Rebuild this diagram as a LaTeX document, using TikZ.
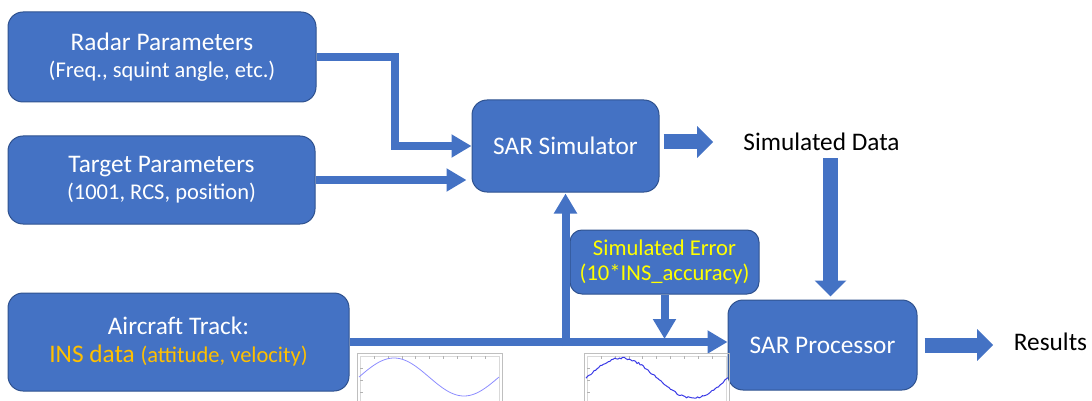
\documentclass[tikz,border=0pt]{standalone}
\usepackage{fontspec}
\setmainfont{Carlito}
\usetikzlibrary{arrows.meta}
\definecolor{boxblue}{HTML}{4472C4}
\definecolor{boxedge}{HTML}{2F528F}
\definecolor{insorange}{HTML}{FFC000}
\definecolor{erryellow}{HTML}{FFFF00}
\definecolor{plotline}{HTML}{8C8CFF}
\definecolor{plotnoisy}{HTML}{3A3AE6}
\def\big{\fontsize{25.3}{28}\selectfont}
\def\sub{\fontsize{22.5}{26}\selectfont}
\begin{document}
\begin{tikzpicture}[x=1pt,y=-1pt,
    block/.style={draw=boxedge,line width=1pt,fill=boxblue,rounded corners=15pt,
                  text=white,align=center,inner sep=0pt,font=\big},
    outtext/.style={font=\big,inner sep=2pt,text=black},
    link/.style={draw=boxblue,line width=8pt,-{Triangle[width=22pt,length=20pt]}},
    fat/.style={draw=boxblue,line width=15pt,-{Triangle[width=31pt,length=16pt]}},
    frame/.style={draw=black!25,line width=1pt}]
  \useasboundingbox (0,0) rectangle (1092,401);
  % cajas
  \node[block,minimum width=308,minimum height=90] (radar) at (162,57)
    {Radar Parameters\\[-1pt]{\sub (Freq., squint angle, etc.)}};
  \node[block,minimum width=307,minimum height=88] (target) at (161.5,180)
    {Target Parameters\\[-1pt]{\sub (1001, RCS, position)}};
  \node[block,minimum width=341,minimum height=98] (track) at (178.5,342)
    {Aircraft Track:\\{\color{insorange}INS data {\sub (attitude, velocity)}}};
  \node[block,minimum width=187,minimum height=92] (sim) at (565.5,146) {SAR Simulator};
  \node[block,minimum width=189,minimum height=90] (proc) at (822.5,345) {SAR Processor};
  \node[block,minimum width=189,minimum height=64,rounded corners=12pt,text=erryellow,
        font=\fontsize{22.6}{25}\selectfont] (error) at (664.5,262)
    {Simulated Error\\(10*INS\_accuracy)};
  \node[outtext] (simdata) at (821.5,142) {Simulated Data};
  \node[outtext] (results) at (1050.5,342) {Results};
  % flechas
  \draw[link] (radar.east) -- ++(78,0) |- (sim.west);
  \draw[link,shorten >=5pt] (target.east) -- (sim.west |- target.east);
  \draw[link] (track.east) -- (proc.west |- track.east);
  \draw[link] ([yshift=-4pt]sim.south |- track.east) -- ([yshift=-1pt]sim.south);
  \draw[link] (error.south) -- ([yshift=3pt]error.south |- track.east);
  \draw[fat] ([xshift=4pt]sim.east |- simdata.west) -- ([xshift=-28pt]simdata.west);
  \draw[fat] ([xshift=9pt,yshift=-5pt]simdata.south) -- ([xshift=8pt,yshift=3pt]proc.north);
  \draw[fat] ([xshift=7pt]proc.east) -- ([xshift=-18.5pt]proc.east -| results.west);
  % graficas INS
  \begin{scope}
    \clip (0,0) rectangle (1092,401);
    \foreach \px in {357,584}{
      \draw[frame] (\px,353) rectangle ++(145,60);
      \draw[black!15] (\px+3,356) rectangle ++(139,60);
      \foreach \k in {1,...,9}
        \draw[black!30] (\px+3+\k*13.9,356) -- ++(0,2.5);
      \foreach \k in {1,...,3}
        \draw[black!30] (\px+3,356+\k*12) -- ++(2.5,0);
    }
    \draw[plotline,line width=0.8pt,domain=0:1,samples=80,variable=\t]
      plot ({359+140*\t},{377-19*sin(360*\t)});
    \pgfmathsetseed{7}
    \draw[plotnoisy,line width=1pt,domain=0:1,samples=90,variable=\t]
      plot ({586+142*\t},{378-20*sin(360*\t)+0.9*rand});
  \end{scope}
\end{tikzpicture}
\end{document}
